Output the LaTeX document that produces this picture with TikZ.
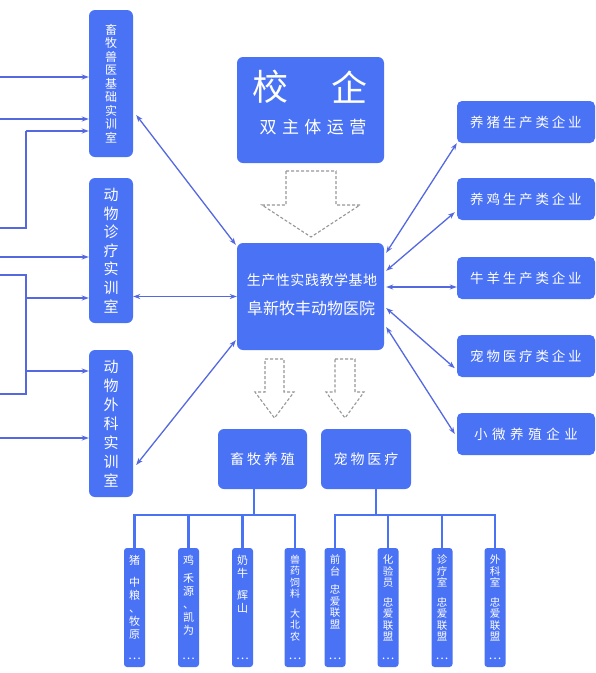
\documentclass[tikz,border=0pt]{standalone}
\usepackage{fontspec}
\newfontfamily\cjk{Noto Sans CJK SC}
\newfontfamily\cjkA[LetterSpace=21]{Noto Sans CJK SC}
\newfontfamily\cjkB[LetterSpace=34]{Noto Sans CJK SC}
\newfontfamily\cjkC[LetterSpace=32]{Noto Sans CJK SC}
\newfontfamily\cjkD[LetterSpace=4]{Noto Sans CJK SC}
\usetikzlibrary{arrows.meta,calc}
\definecolor{boxblue}{RGB}{74,114,245}
\definecolor{lineblue}{RGB}{84,104,224}
\definecolor{dashgray}{RGB}{150,150,150}
\newcommand\leafbox[1]{\parbox[c][105pt][t]{20pt}{\centering #1\par\vfill{\fontsize{12}{12}\selectfont …}}}
\begin{document}
\begin{tikzpicture}[x=1pt,y=-1pt,
 box/.style={fill=boxblue, text=white, rounded corners=6pt, inner sep=0pt, font=\cjk},
 txt/.style={text=white, inner sep=0pt},
 conn/.style={draw=lineblue, line width=1.3pt},
 onearrow/.style={conn, -{Stealth[length=7pt,width=5pt]}},
 twoarrow/.style={conn, {Stealth[length=7pt,width=5pt]}-{Stealth[length=7pt,width=5pt]}},
 tree/.style={draw=boxblue, line width=2.2pt},
 hollow/.style={draw=dashgray, dash pattern=on 3pt off 2pt, line width=1.1pt, line join=miter},
 vroom/.style={box, minimum width=44pt, align=center},
 rbox/.style={box, minimum width=138pt, minimum height=42pt, rounded corners=5pt},
 leaf/.style={box, minimum width=21pt, minimum height=119pt, rounded corners=3pt},
 cat/.style={box, minimum width=89pt, minimum height=60pt, font=\cjkA\fontsize{14}{16}\selectfont},
]
\useasboundingbox (0,0) rectangle (596,673);

% left vertical rooms
\node[vroom, minimum height=147pt, font=\cjk\fontsize{12}{13.5}\selectfont] (b1) at (111,83.5) {畜\\牧\\兽\\医\\基\\础\\实\\训\\室};
\node[vroom, minimum height=145pt, font=\cjk\fontsize{15}{18.6}\selectfont] (b2) at (111,250.5) {动\\物\\诊\\疗\\实\\训\\室};
\node[vroom, minimum height=147pt, font=\cjk\fontsize{15}{19}\selectfont] (b3) at (111,423.5) {动\\物\\外\\科\\实\\训\\室};

% top box
\node[box, minimum width=147pt, minimum height=106pt] (top) at (310.5,110) {};
\node[txt, font=\cjk\fontsize{36}{36}\selectfont] (xiao) at (270,87) {校};
\node[txt, font=\cjk\fontsize{36}{36}\selectfont] (qi) at (349,87) {企};
\node[txt, font=\cjkC\fontsize{17}{17}\selectfont] (shuang) at (313,127) {双主体运营};

% main box
\node[box, minimum width=147pt, minimum height=107pt] (main) at (310.5,296.5) {};
\node[txt, font=\cjkD\fontsize{14}{14}\selectfont] (m1) at (312,280) {生产性实践教学基地};
\node[txt, font=\cjk\fontsize{16}{16}\selectfont] (m2) at (311,308) {阜新牧丰动物医院};

% right enterprises
\node[rbox, font=\cjkA\fontsize{13.5}{14}\selectfont] (r1) at (526,122) {养猪生产类企业};
\node[rbox, font=\cjkA\fontsize{13.5}{14}\selectfont] (r2) at (526,199) {养鸡生产类企业};
\node[rbox, font=\cjkA\fontsize{13.5}{14}\selectfont] (r3) at (526,278) {牛羊生产类企业};
\node[rbox, font=\cjkA\fontsize{13.5}{14}\selectfont] (r4) at (526,356) {宠物医疗类企业};
\node[rbox, font=\cjkB\fontsize{13.5}{14}\selectfont] (r5) at (526,434) {小微养殖企业};

% categories
\node[cat] (c1) at (262.5,459) {畜牧养殖};
\node[cat, minimum width=90pt] (c2) at (366,459) {宠物医疗};

% leaves
\node[leaf] (la) at (134.5,607.5) {\leafbox{\fontsize{11}{13}\selectfont 猪\\[9pt]中\\粮\\、\\牧\\原}};
\node[leaf] (lb) at (188.5,607.5) {\leafbox{\fontsize{11}{13}\selectfont 鸡\\[5pt]禾\\源\\、\\凯\\为}};
\node[leaf] (lc) at (242.5,607.5) {\leafbox{\fontsize{11}{13}\selectfont 奶\\牛\\[9pt]辉\\山}};
\node[leaf] (ld) at (295,607.5) {\leafbox{\fontsize{10}{11.5}\selectfont 兽\\药\\饲\\料\\[8pt]大\\北\\农}};
\node[leaf] (le) at (335,607.5) {\leafbox{\fontsize{10.5}{11.5}\selectfont 前\\台\\[7pt]忠\\爱\\联\\盟}};
\node[leaf] (lf) at (388,607.5) {\leafbox{\fontsize{10.5}{11.5}\selectfont 化\\验\\员\\[8pt]忠\\爱\\联\\盟}};
\node[leaf] (lg) at (442,607.5) {\leafbox{\fontsize{10.5}{11.5}\selectfont 诊\\疗\\室\\[8pt]忠\\爱\\联\\盟}};
\node[leaf] (lh) at (495,607.5) {\leafbox{\fontsize{10.5}{11.5}\selectfont 外\\科\\室\\[8pt]忠\\爱\\联\\盟}};

% hollow dashed arrows
\draw[hollow] (286,171) -- (336,171) -- (336,205) -- (360,205) -- (311,237) -- (262,205) -- (286,205) -- cycle;
\draw[hollow] (265,359) -- (284,359) -- (284,392) -- (294,392) -- (274.5,418) -- (255,392) -- (265,392) -- cycle;
\draw[hollow] (335,359) -- (355,359) -- (355,392) -- (364,392) -- (345,418) -- (326,392) -- (335,392) -- cycle;

% trees
\coordinate (bar1) at (254,515);
\coordinate (bar2) at (376,515);
\draw[tree] (c1.south -| bar1) -- (bar1);
\draw[tree] (la.north) |- (bar1) -| (ld.north);
\draw[tree] (lb.north) -- (lb.north |- bar1);
\draw[tree] (lc.north) -- (lc.north |- bar1);
\draw[tree] (c2.south -| bar2) -- (bar2);
\draw[tree] (le.north) |- (bar2) -| (lh.north);
\draw[tree] (lf.north) -- (lf.north |- bar2);
\draw[tree] (lg.north) -- (lg.north |- bar2);

% left incoming lines
\coordinate (l1) at (0,77);
\coordinate (l2) at (0,119);
\coordinate (l3) at (0,228);
\coordinate (l4) at (0,257);
\coordinate (l5a) at (0,275);
\coordinate (l5b) at (0,394);
\coordinate (l6) at (0,438);
\coordinate (k1) at (26,131);
\coordinate (k2) at (26,298);
\coordinate (k3) at (26,371);
\draw[onearrow] (l1) -- (b1.west |- l1);
\draw[onearrow] (l2) -- (b1.west |- l2);
\draw[conn] (l3) -| (k1);
\draw[onearrow] (k1) -- (b1.west |- k1);
\draw[onearrow] (l4) -- (b2.west |- l4);
\draw[conn] (l5a) -| (k2) -- (k3) |- (l5b);
\draw[onearrow] (k2) -- (b2.west |- k2);
\draw[onearrow] (k3) -- (b3.west |- k3);
\draw[onearrow] (l6) -- (b3.west |- l6);

% rooms <-> main
\draw[twoarrow] ($(b1.east)+(3,31.5)$) -- ($(main.north west)+(-1,2)$);
\draw[twoarrow] (b2.east |- main.west) -- (main.west);
\draw[twoarrow] ($(b3.east)+(3,41.5)$) -- ($(main.south west)+(-1,-10)$);

% main <-> enterprises
\draw[twoarrow] ($(main.north east)+(2,10)$) -- (r1.south west);
\draw[twoarrow] ($(main.north east)+(2,28)$) -- ($(r2.south west)+(-2,-8)$);
\draw[twoarrow] ($(main.east)+(2,-9.5)$) -- (r3.west |- 0,287);
\draw[twoarrow] ($(main.east)+(2,11.5)$) -- ($(r4.south west)+(-2,-9)$);
\draw[twoarrow] ($(main.east)+(2,30.5)$) -- ($(r5.west)+(-2,0)$);
\end{tikzpicture}
\end{document}
